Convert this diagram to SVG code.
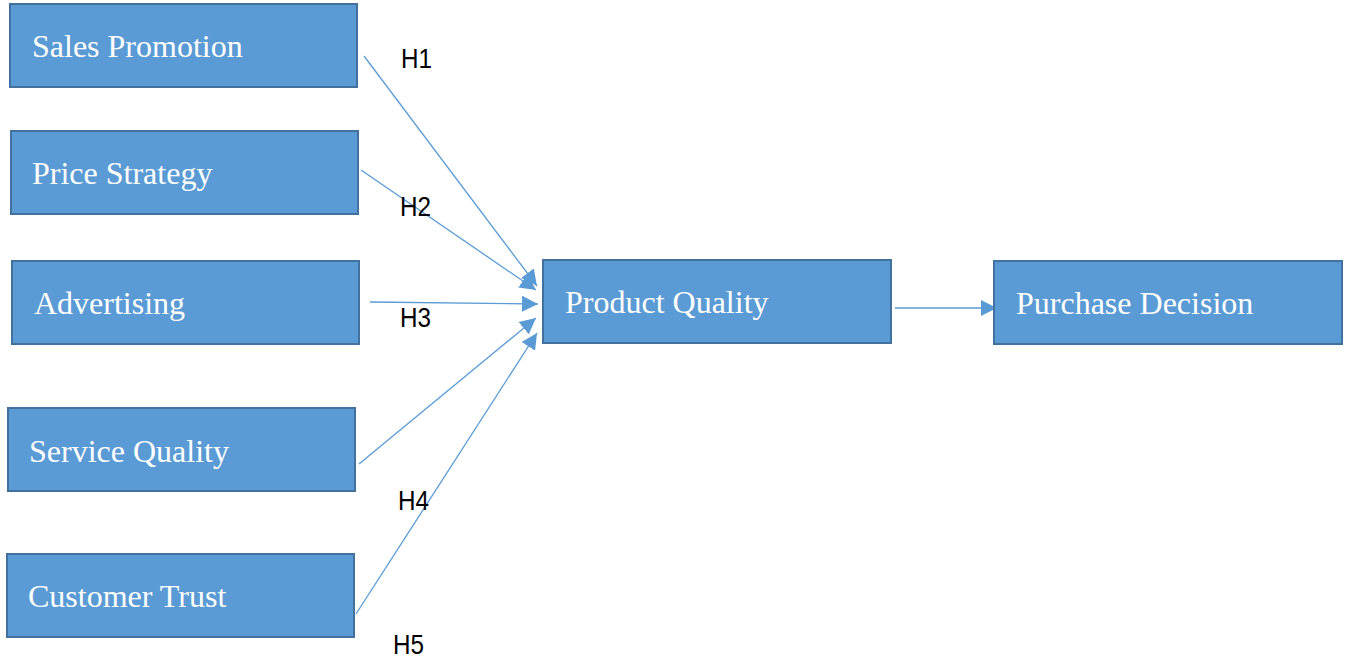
<svg xmlns="http://www.w3.org/2000/svg" width="1347" height="659" viewBox="0 0 1347 659">
<style>
.box{fill:#5B9BD5;stroke:#41719C;stroke-width:2}
.lbl{font-family:"Liberation Serif","Times New Roman",serif;font-size:32px;fill:#FFFFFF}
.h{font-family:"Liberation Sans",Arial,sans-serif;font-size:27px;fill:#000000}
.c{stroke:#5B9BD5;stroke-width:1.3;fill:none;marker-end:url(#ah)}
</style>
<defs>
<marker id="ah" markerUnits="userSpaceOnUse" markerWidth="18" markerHeight="18" viewBox="0 0 18 18" refX="16" refY="9" orient="auto">
<path d="M0,1 L16,9 L0,17 Z" fill="#5B9BD5"/>
</marker>
</defs>
<rect width="1347" height="659" fill="#FFFFFF"/>
<g id="connectors">
<line class="c" x1="364" y1="56" x2="537" y2="286"/>
<line class="c" x1="361" y1="170" x2="536" y2="290"/>
<line class="c" x1="370" y1="302" x2="538" y2="304"/>
<line class="c" x1="359" y1="464" x2="536" y2="318"/>
<line class="c" x1="356" y1="614" x2="537" y2="333"/>
<line class="c" x1="895" y1="308" x2="997" y2="308"/>
</g>
<g id="sales-promotion"><rect class="box" x="10" y="4" width="347" height="83"/><text class="lbl" x="32" y="57">Sales Promotion</text></g>
<g id="price-strategy"><rect class="box" x="11" y="131" width="347" height="83"/><text class="lbl" x="32" y="184">Price Strategy</text></g>
<g id="advertising"><rect class="box" x="12" y="261" width="347" height="83"/><text class="lbl" x="34" y="314">Advertising</text></g>
<g id="service-quality"><rect class="box" x="8" y="408" width="347" height="83"/><text class="lbl" x="29" y="462">Service Quality</text></g>
<g id="customer-trust"><rect class="box" x="7" y="554" width="347" height="83"/><text class="lbl" x="28" y="607">Customer Trust</text></g>
<g id="product-quality"><rect class="box" x="543" y="260" width="348" height="83"/><text class="lbl" x="565" y="313">Product Quality</text></g>
<g id="purchase-decision"><rect class="box" x="994" y="261" width="348" height="83"/><text class="lbl" x="1016" y="314">Purchase Decision</text></g>
<g id="labels">
<text class="h" x="401" y="68" textLength="31" lengthAdjust="spacingAndGlyphs">H1</text>
<text class="h" x="400" y="216" textLength="31" lengthAdjust="spacingAndGlyphs">H2</text>
<text class="h" x="400" y="327" textLength="31" lengthAdjust="spacingAndGlyphs">H3</text>
<text class="h" x="398" y="510" textLength="31" lengthAdjust="spacingAndGlyphs">H4</text>
<text class="h" x="393" y="654" textLength="31" lengthAdjust="spacingAndGlyphs">H5</text>
</g>
</svg>
